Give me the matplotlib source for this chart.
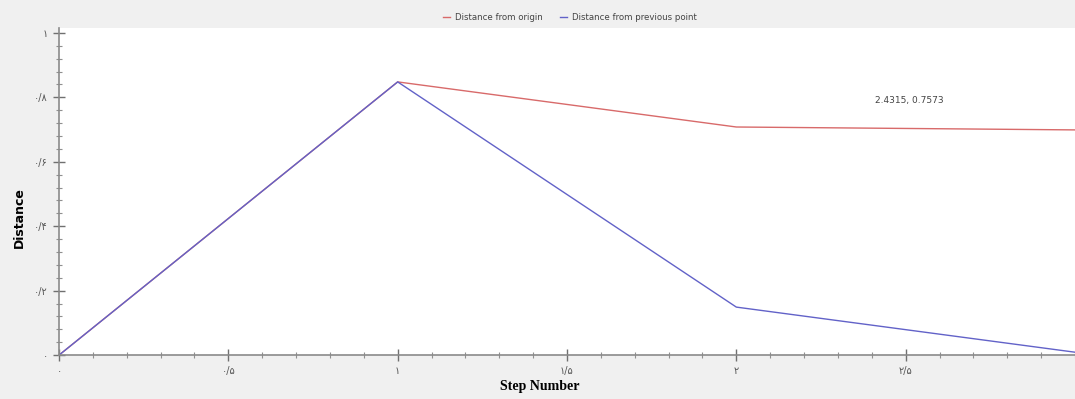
import matplotlib.pyplot as plt
from matplotlib.ticker import MultipleLocator

plt.rcParams['font.family'] = ['DejaVu Sans']

# 数据
steps = [0, 1, 2, 3]
dist_origin = [0.0, 0.848, 0.708, 0.699]
dist_prev = [0.0, 0.848, 0.149, 0.009]

x_ticks = [0, 0.5, 1, 1.5, 2, 2.5]
x_tick_labels = ["۰", "۰/۵", "۱", "۱/۵", "۲", "۲/۵"]
y_ticks = [0, 0.2, 0.4, 0.6, 0.8, 1.0]
y_tick_labels = ["۰", "۰/۲", "۰/۴", "۰/۶", "۰/۸", "۱"]

hover_text = "2.4315, 0.7573"
hover_pos = (2.51, 0.79)

fig = plt.figure(figsize=(10.75, 3.99), dpi=100, facecolor="#f0f0f0")
ax = fig.add_axes([0.0549, 0.110, 0.9451, 0.820])
ax.set_facecolor("white")

ax.plot(steps, dist_origin, color="#d86a6a", linewidth=1.0, label="Distance from origin")
ax.plot(steps, dist_prev, color="#6262c8", linewidth=1.0, label="Distance from previous point")

ax.set_xlim(0, 3)
ax.set_ylim(0, 1.0155)

ax.set_xticks(x_ticks)
ax.set_xticklabels(x_tick_labels)
ax.set_yticks(y_ticks)
ax.set_yticklabels(y_tick_labels)
ax.xaxis.set_minor_locator(MultipleLocator(0.1))
ax.yaxis.set_minor_locator(MultipleLocator(0.04))

for side in ["top", "right"]:
    ax.spines[side].set_visible(False)
for side in ["left", "bottom"]:
    ax.spines[side].set_color("#8a8a8a")
    ax.spines[side].set_linewidth(1.2)

ax.tick_params(which="major", direction="inout", length=8, width=1, color="#707070",
               labelsize=7, labelcolor="#555555", pad=4)
ax.tick_params(which="minor", direction="inout", length=4, width=0.8, color="#909090")

ax.set_xlabel("Step Number", fontsize=10, fontweight="bold", family="Liberation Serif")
ax.set_ylabel("Distance", fontsize=9, fontweight="bold")
ax.xaxis.set_label_coords(0.473, -0.075)
ax.yaxis.set_label_coords(-0.033, 0.42)

ax.text(hover_pos[0], hover_pos[1], hover_text, fontsize=6.5, color="#444444",
        ha="center", va="center")

fig.legend(loc="center", bbox_to_anchor=(0.53, 0.955), ncol=2, frameon=False,
           fontsize=6.2, handlelength=0.8, columnspacing=2.0, handletextpad=0.6,
           labelcolor="#444444")

plt.savefig("out.png", dpi=100, facecolor=fig.get_facecolor())
plt.close()
